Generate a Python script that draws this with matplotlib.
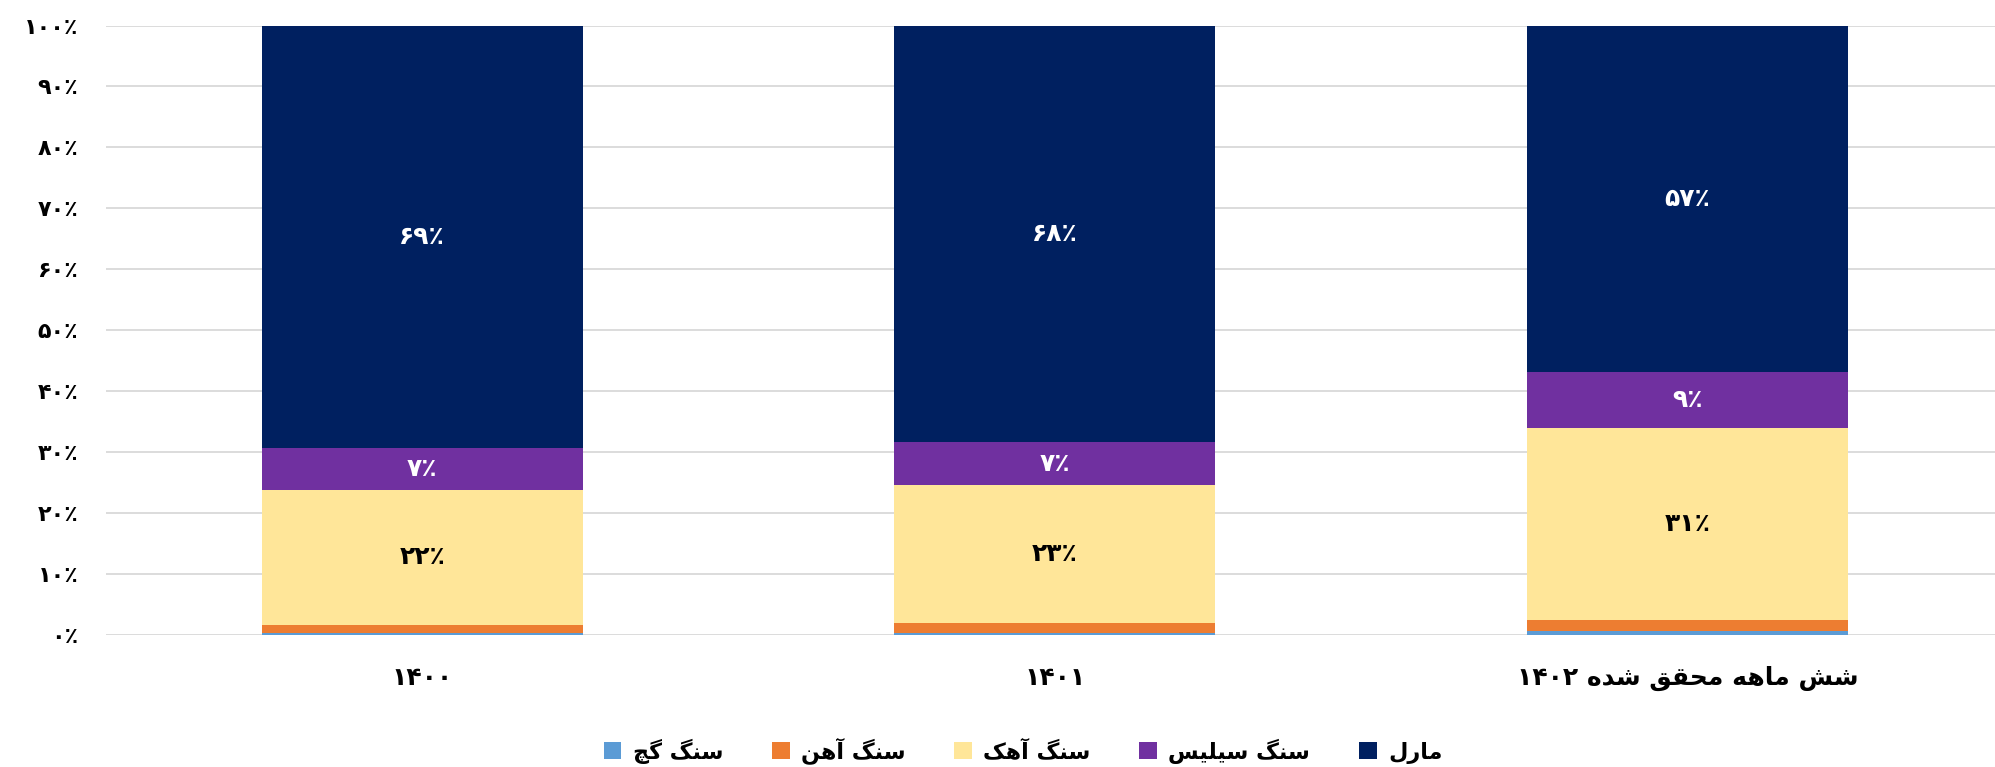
import re
import matplotlib
matplotlib.use("Agg")
import matplotlib.pyplot as plt
import numpy as np

# ---------------- data ----------------
categories = ['۱۴۰۰', '۱۴۰۱', 'شش ماهه محقق شده ۱۴۰۲']
series_names = ['سنگ گچ', 'سنگ آهن', 'سنگ آهک', 'سنگ سیلیس', 'مارل']
gypsum = [0.4, 0.4, 0.7]
iron = [1.3, 1.5, 1.8]
limestone = [22.1, 22.7, 31.4]
silica = [6.8, 7.0, 9.2]
marl = [69.4, 68.4, 56.9]
labelled = [False, False, True, True, True]
colors = ['#5B9BD5', '#ED7D31', '#FFE699', '#7030A0', '#002060']
label_colors = [None, None, 'black', 'white', 'white']
yticks = [0, 10, 20, 30, 40, 50, 60, 70, 80, 90, 100]

# ------------- Persian text shaping (no shaping engine in matplotlib) -------------
FORMS = {
    'ا': ('\uFE8D', '\uFE8E', None, None),
    'آ': ('\uFE81', '\uFE82', None, None),
    'د': ('\uFEA9', '\uFEAA', None, None),
    'ر': ('\uFEAD', '\uFEAE', None, None),
    'س': ('\uFEB1', '\uFEB2', '\uFEB3', '\uFEB4'),
    'ش': ('\uFEB5', '\uFEB6', '\uFEB7', '\uFEB8'),
    'ح': ('\uFEA1', '\uFEA2', '\uFEA3', '\uFEA4'),
    'ق': ('\uFED5', '\uFED6', '\uFED7', '\uFED8'),
    'ل': ('\uFEDD', '\uFEDE', '\uFEDF', '\uFEE0'),
    'م': ('\uFEE1', '\uFEE2', '\uFEE3', '\uFEE4'),
    'ن': ('\uFEE5', '\uFEE6', '\uFEE7', '\uFEE8'),
    'ه': ('\uFEE9', '\uFEEA', '\uFEEB', '\uFEEC'),
    'ی': ('\uFBFC', '\uFBFD', '\uFBFE', '\uFBFF'),
    'ک': ('\uFB8E', '\uFB8F', '\uFB90', '\uFB91'),
    'گ': ('\uFB92', '\uFB93', '\uFB94', '\uFB95'),
    'چ': ('\uFB7A', '\uFB7B', '\uFB7C', '\uFB7D'),
}


def shape(text):
    out = []
    n = len(text)
    for i, c in enumerate(text):
        if c not in FORMS:
            out.append(c)
            continue
        iso, fin, ini, med = FORMS[c]
        prev = text[i - 1] if i > 0 else ''
        nxt = text[i + 1] if i < n - 1 else ''
        pj = prev in FORMS and FORMS[prev][2] is not None
        nj = (nxt in FORMS) and ini is not None
        if pj and nj:
            out.append(med)
        elif pj:
            out.append(fin)
        elif nj:
            out.append(ini)
        else:
            out.append(iso)
    s = ''.join(out)[::-1]
    s = re.sub(r'[\u06F0-\u06F9\u066A0-9]+', lambda m: m.group(0)[::-1], s)
    return s


def fa_num(v):
    return str(v).translate(str.maketrans('0123456789', '۰۱۲۳۴۵۶۷۸۹'))


plt.rcParams['font.family'] = ['DejaVu Sans']
plt.rcParams['font.weight'] = 'bold'

fig = plt.figure(figsize=(19.95, 7.67), dpi=100)
ax = fig.add_axes([106 / 1995, (767 - 635) / 767, 1 - 106 / 1995, (635 - 25.5) / 767])

x = np.arange(len(categories))
width = 0.5075
all_series = [gypsum, iron, limestone, silica, marl]
bottom = np.zeros(len(categories))
handles = []
for vals, name, col, lab, lc in zip(all_series, series_names, colors, labelled, label_colors):
    vals = np.array(vals)
    bars = ax.bar(x, vals, width, bottom=bottom, color=col, label=shape(name),
                  edgecolor='none', zorder=3)
    handles.append(bars)
    if lab:
        for xi, b, v in zip(x, bottom, vals):
            ax.text(xi, b + v / 2, fa_num(int(round(v))) + '٪', ha='center', va='center',
                    color=lc, fontsize=18, fontweight='bold', zorder=4)
    bottom = bottom + vals

ax.set_xlim(-0.5, 2.486)
ax.set_ylim(0, 100)
ax.set_yticks(yticks)
ax.set_yticklabels([fa_num(t) + '٪' for t in yticks], fontsize=16, fontweight='bold')
ax.set_xticks(x)
ax.set_xticklabels([shape(c) for c in categories], fontsize=18, fontweight='bold')
ax.tick_params(axis='y', length=0, pad=20)
ax.tick_params(axis='x', length=0, pad=22)
ax.grid(axis='y', color='#D9D9D9', linewidth=1.3, zorder=0)
ax.set_axisbelow(True)
for s in ax.spines.values():
    s.set_visible(False)

fig.legend(handles=handles, labels=[shape(n) for n in series_names], loc='center',
           bbox_to_anchor=(1023 / 1995, 1 - 751 / 767), ncol=5, frameon=False,
           prop={'size': 16, 'weight': 'bold'}, handlelength=0.8, handleheight=0.8,
           handletextpad=0.5, columnspacing=2.2)

fig.savefig('out.png', dpi=100)
